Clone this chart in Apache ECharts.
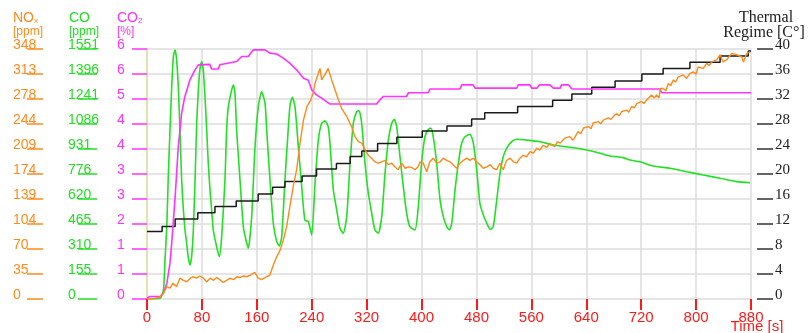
<!DOCTYPE html>
<html>
<head>
<meta charset="utf-8">
<script src="https://cdn.jsdelivr.net/npm/echarts@6/dist/echarts.min.js"></script>
<style>html,body{margin:0;padding:0;background:#fff}#c{width:811px;height:333px}</style>
</head>
<body>
<div id="c"></div>
<script>
// ---- tick labels ----
const noxTicks = ['0','35','70','104','139','174','209','244','278','313','348'];
const coTicks = ['0','155','310','465','620','776','931','1086','1241','1396','1551'];
const co2Ticks = ['0','1','1','2','3','3','4','4','5','6','6'];
const tempTicks = ['0','4','8','12','16','20','24','28','32','36','40'];
const timeTicks = ['0','80','160','240','320','400','480','560','640','720','800','880'];

// ---- series [time s, value] ----
const noxData = [[0,0],[9,0],[19,3],[24,8],[29,17],[33.5,15],[38,22],[43,17],[48,29],[53,26],[58,24],[63,29],[67,31],[72,29],[77,32],[82,29],[87,24],[92,29],[97,26],[101.5,30],[106,27],[111,23],[116,26],[121,29],[126,27],[131,31],[135.5,30],[140,32],[145,31],[150,33],[157,37],[162,29],[167,27],[174,31],[179,33],[184,47],[189,59],[194,68],[198.6,82],[203.5,101],[208,128],[213,156],[218,180],[223,217],[228,249],[233,268],[237.5,275],[242,286],[244.8,300],[249.6,314],[252,321],[254.5,305],[259,312],[264,321],[269,305],[274,291],[279,277],[283.7,265],[291,254],[298,240],[303,226],[308,219],[313,217],[318,207],[322.5,200],[327,196],[332,191],[337,189],[342,191],[347,193],[351.6,187],[356.5,189],[361,184],[366,180],[371,189],[376,182],[381,184],[385.7,183],[390.5,180],[395,184],[398,191],[402.5,189],[407.5,177],[412,191],[417,196],[422,189],[427,191],[431.7,196],[436.7,193],[441.5,191],[446,187],[451,182],[456,189],[461,193],[466,196],[470.6,193],[475.5,196],[480,191],[485,187],[490,182],[495,184],[500,187],[504.5,182],[509.5,180],[514,189],[519,180],[524,193],[529,196],[534,191],[538.6,189],[543.5,196],[548,200],[553,198],[558,205],[563,203],[568,210],[572,207],[577,214],[582,211],[587,216],[594,212],[598,219],[602,217],[609,224],[616,226],[621,221],[628,233],[632,230],[636,238],[643,240],[647,237],[650,245],[657.6,247],[661,244],[665,249],[672,252],[676,250],[679.5,254],[684,258],[688,255],[691.6,261],[699,263],[702,260],[706,268],[710,266],[713.5,272],[720.7,275],[724,272],[728,277],[735,284],[739,280],[742.6,284],[746,280],[748,293],[752,293],[756,290],[759.5,300],[763,297],[766.8,305],[770,302],[774,309],[781,312],[786,307],[791,314],[796,316],[800,313],[803,323],[810.5,321],[815.5,328],[819,325],[823,330],[830,333],[835,340],[839.5,330],[844.6,333],[852,342],[859,340],[866.5,337],[869,330],[874,342],[878.6,344]];

const coData = [[2,0],[19,4],[24,56],[26,223],[29,471],[31,759],[33.5,1048],[36,1317],[38.4,1503],[40.8,1545],[43,1493],[45.6,1317],[48,1048],[50.5,738],[53,552],[55.4,428],[57.8,346],[60,262],[62.6,211],[65,262],[67.5,428],[70,738],[72.4,1090],[74.8,1297],[77,1421],[79.7,1472],[82,1421],[84.5,1255],[87,1048],[89.3,842],[91.8,676],[94.2,552],[96.6,428],[101.5,324],[105.4,262],[108.8,387],[113.6,738],[116,1048],[118.5,1193],[123.4,1297],[125.8,1328],[128.2,1276],[130.6,1048],[135.5,738],[140.3,449],[144.2,366],[147.6,315],[152.5,511],[157.4,945],[162.2,1193],[167,1286],[172,1214],[174.4,1048],[179.2,738],[184,470],[189,356],[192.8,329],[196.3,387],[201,738],[206,1069],[208.4,1204],[211.7,1251],[215.6,1193],[220.5,945],[225.4,697],[230,490],[235,480],[240,397],[244.8,718],[249.6,986],[254.5,1090],[259.3,1105],[264,1069],[266.6,966],[271.5,676],[276.4,552],[281,439],[286,408],[291,511],[295.8,842],[300.6,1090],[305.5,1162],[309,1168],[312.8,1090],[317.6,842],[322.5,656],[327.4,532],[332,428],[337,408],[342,511],[346.8,780],[351.6,986],[356.5,1090],[360.3,1115],[363.8,1069],[368.6,883],[373.4,697],[378.3,532],[383,449],[390.5,428],[395.3,573],[400,842],[405,1007],[410,1053],[413.8,1059],[417,1007],[422,842],[427,614],[431.7,511],[436.7,449],[440.5,428],[444,470],[448.8,676],[453.6,842],[458.5,966],[463.3,1007],[470.6,1022],[475.5,966],[480.4,800],[485,594],[490,521],[495,470],[500,432],[504.5,449],[509.5,614],[514.3,780],[519,883],[524,935],[531.4,976],[538.6,991],[553,986],[572.6,976],[592,955],[616,941],[640.6,924],[660,904],[674.6,887],[694,877],[703.7,862],[718,851],[737.7,825],[762,811],[786,790],[810.5,769],[835,749],[859,728],[878.6,722]];

const co2Data = [[0,0.02],[4,0.06],[19,0.06],[24,0.14],[29,0.38],[33.5,0.86],[36,1.34],[41,2.45],[45.6,3.65],[50.5,4.46],[55,4.85],[62.6,5.26],[70,5.5],[74.8,5.62],[91.8,5.63],[94,5.52],[104,5.52],[106,5.62],[130.6,5.70],[138,5.82],[147.6,5.82],[155,5.98],[172,5.98],[179,5.9],[189,5.88],[198.6,5.78],[208,5.66],[218,5.5],[228,5.3],[235,5.25],[240,5.02],[247,4.9],[254.5,4.82],[262,4.73],[266.6,4.68],[334.6,4.68],[339.5,4.78],[344,4.86],[378,4.86],[381,4.95],[410,4.95],[412,5.04],[456,5.04],[458.5,5.14],[475,5.14],[478,5.06],[538.6,5.06],[541,5.14],[558,5.14],[560.5,5.06],[568,5.06],[572,5.14],[587,5.14],[592,5.06],[602,5.06],[604,5.14],[614,5.14],[619,5.04],[747,5.04],[750,4.95],[880,4.95]];

const tempData = [[0,10.8],[22,11.6],[41,12.8],[74,13.8],[99,14.8],[130,15.7],[162,16.8],[183,17.9],[201,18.8],[226,19.7],[247,20.8],[276,21.7],[296,22.8],[313,23.7],[336,24.9],[364,25.9],[401,26.9],[437,27.7],[473,28.8],[492,29.8],[540,30.8],[591,31.8],[619,32.8],[648,33.9],[682,34.9],[721,36.0],[752,36.9],[791,37.9],[835,38.9],[876,39.7],[880,39.7]];

const C_NOX = '#ff8a1c', C_CO = '#22e022', C_CO2 = '#ff33ff', C_T = '#1a1a1a';
const sans = 'Liberation Sans, Arial, sans-serif';
const serif = 'Liberation Serif, Times New Roman, serif';

function leftAxis(max, labels, color, offset, tickLen, margin) {
  const step = max / 10;
  return {
    type: 'value', position: 'left', min: 0, max: max, interval: step, offset: offset,
    axisLine: { show: false, onZero: false },
    axisTick: { show: true, inside: false, length: tickLen, lineStyle: { color: color, width: 1.5 } },
    axisLabel: { show: true, align: 'left', margin: margin, verticalAlign: 'bottom', lineHeight: 8,
      color: color, fontFamily: sans, fontSize: 14,
      formatter: v => labels[Math.round(v / step)] },
    splitLine: { show: false }
  };
}

const chart = echarts.init(document.getElementById('c'), null, { renderer: 'canvas' });
const co2Axis = leftAxis(6, co2Ticks, C_CO2, 0, 15, 30);
co2Axis.axisLine = { show: true, onZero: false, lineStyle: { color: '#e6dfb0', width: 2 } };

chart.setOption({
  animation: false,
  backgroundColor: '#fff',
  grid: { left: 147, right: 60, top: 49, bottom: 34 },
  xAxis: {
    type: 'value', min: 0, max: 880, interval: 80,
    axisLine: { show: false, onZero: false },
    axisTick: { show: true, length: 11, lineStyle: { color: '#ff1a1a', width: 2 } },
    axisLabel: { color: '#ff1a1a', fontFamily: sans, fontSize: 15, margin: 11,
      formatter: v => timeTicks[Math.round(v / 80)] },
    splitLine: { show: true, lineStyle: { color: '#dcdcdc', width: 1.5 } }
  },
  yAxis: [
    {
      type: 'value', position: 'right', min: 0, max: 40, interval: 4, offset: 6,
      axisLine: { show: false, onZero: false },
      axisTick: { show: true, inside: false, length: 16, lineStyle: { color: '#333', width: 1.5 } },
      axisLabel: { margin: 18, verticalAlign: 'bottom', lineHeight: 8, color: '#222',
        fontFamily: serif, fontSize: 15, formatter: v => tempTicks[Math.round(v / 4)] },
      splitLine: { show: true, lineStyle: { color: '#dcdcdc', width: 1.5 } }
    },
    leftAxis(348, noxTicks, C_NOX, 104, 16, 30),
    leftAxis(1551, coTicks, C_CO, 50, 19, 29),
    co2Axis
  ],
  graphic: [
    { type: 'text', left: 13, top: 11, style: { text: '{a|NO}{b|x}', rich: { a: { fontSize: 14, fontFamily: sans, fill: C_NOX }, b: { fontSize: 8, fontFamily: sans, fill: C_NOX, padding: [6,0,0,0] } } } },
    { type: 'text', left: 13, top: 26, style: { text: '[ppm]', fontSize: 12, fontFamily: sans, fill: C_NOX } },
    { type: 'text', left: 69, top: 11, style: { text: 'CO', fontSize: 14, fontFamily: sans, fill: C_CO } },
    { type: 'text', left: 69, top: 26, style: { text: '[ppm]', fontSize: 12, fontFamily: sans, fill: C_CO } },
    { type: 'text', left: 117, top: 11, style: { text: '{a|CO}{b|2}', rich: { a: { fontSize: 14, fontFamily: sans, fill: C_CO2 }, b: { fontSize: 8, fontFamily: sans, fill: C_CO2, padding: [6,0,0,0] } } } },
    { type: 'text', left: 117, top: 26, style: { text: '[%]', fontSize: 12, fontFamily: sans, fill: C_CO2 } },
    { type: 'text', x: 766, y: 18, style: { text: 'Thermal', fontSize: 16, fontFamily: serif, fill: '#222', align: 'center', verticalAlign: 'middle' } },
    { type: 'text', x: 764, y: 33, style: { text: 'Regime [C°]', fontSize: 16, fontFamily: serif, fill: '#222', align: 'center', verticalAlign: 'middle' } },
    { type: 'text', x: 757, y: 327, style: { text: 'Time [s]', fontSize: 15, fontFamily: sans, fill: '#ff1a1a', align: 'center', verticalAlign: 'middle' } }
  ],
  series: [
    { name: 'CO', type: 'line', yAxisIndex: 2, data: coData, showSymbol: false, smooth: 0.2,
      lineStyle: { color: C_CO, width: 1.6 }, z: 3 },
    { name: 'Thermal', type: 'line', yAxisIndex: 0, data: tempData, showSymbol: false, step: 'end',
      lineStyle: { color: C_T, width: 1.5 }, z: 4 },
    { name: 'CO2', type: 'line', yAxisIndex: 3, data: co2Data, showSymbol: false,
      lineStyle: { color: C_CO2, width: 1.6 }, z: 5 },
    { name: 'NOx', type: 'line', yAxisIndex: 1, data: noxData, showSymbol: false,
      lineStyle: { color: C_NOX, width: 1.4 }, z: 6 }
  ]
});
</script>
</body>
</html>
